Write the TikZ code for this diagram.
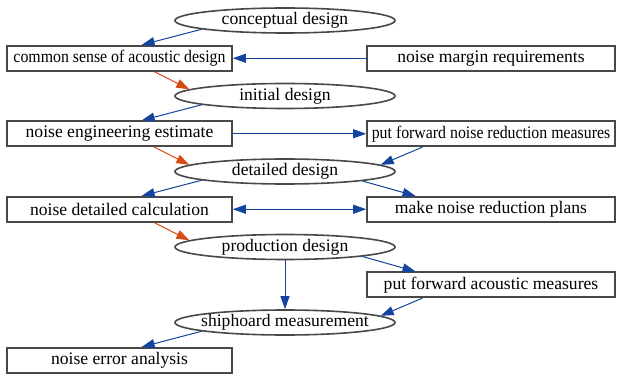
\documentclass[tikz,border=0pt]{standalone}
\usepackage{fontspec}
\setmainfont{Liberation Serif}
\usepackage{graphicx}
\usetikzlibrary{arrows.meta, positioning, shapes.geometric}

\definecolor{flowblue}{RGB}{20,68,158}
\definecolor{floworange}{RGB}{214,74,20}
\definecolor{rim}{RGB}{72,72,72}

% ellipse size comes from minimum width/height only
\newcommand{\stagetext}[1]{\makebox[0pt]{#1}}
\newcommand{\squeeze}[1]{\scalebox{0.9}[1]{#1}}

\begin{document}
\begin{tikzpicture}[
  x=1pt, y=-1pt, on grid,
  font=\fontsize{17.6}{20}\selectfont,
  stage/.style={ellipse, draw=rim, line width=1.6pt, minimum width=220pt, minimum height=25pt, inner sep=0pt},
  task/.style={rectangle, draw=rim, line width=1.6pt, minimum height=25pt, inner sep=0pt},
  lefttask/.style={task, minimum width=225pt},
  righttask/.style={task, minimum width=248pt},
  edge/.style={-{Triangle[length=13pt, width=9pt]}, flowblue, line width=1pt},
  twoway/.style={edge, {Triangle[length=13pt, width=9pt]}-{Triangle[length=13pt, width=9pt]}},
  advance/.style={edge, floworange}
]
\useasboundingbox (0,0) rectangle (618,374);

\node[stage] (cd) at (285,20.5) {\stagetext{conceptual design}};
\node[lefttask, below left=37.75pt and 165.5pt of cd] (cs) {\squeeze{common sense of acoustic design}};
\node[righttask, right=371.5pt of cs] (nm) {noise margin requirements};
\node[stage, below=75.5pt of cd] (id) {\stagetext{initial design}};
\node[lefttask, below=75.5pt of cs] (ne) {noise engineering estimate};
\node[righttask, right=371.5pt of ne] (pf) {\squeeze{put forward noise reduction measures}};
\node[stage, below=75.5pt of id] (dd) {\stagetext{detailed design}};
\node[lefttask, below=75.5pt of ne] (nd) {noise detailed calculation};
\node[righttask, right=371.5pt of nd] (mp) {make noise reduction plans};
\node[stage, below=75.5pt of dd] (pd) {\stagetext{production design}};
\node[righttask, below=75.5pt of mp] (pa) {put forward acoustic measures};
\node[stage, below=75.5pt of pd] (sm) {\stagetext{shiphoard measurement}};
\node[lefttask, below=151pt of nd] (ea) {noise error analysis};

\draw[edge] (cd.186) -- (cs.31);
\draw[edge] (nm) -- (cs);
\draw[advance] (cs.-21) -- (id.176);
\draw[edge] (id.186) -- (ne.31);
\draw[edge] (ne) -- (pf);
\draw[advance] (ne.-21) -- (dd.176);
\draw[edge] (pf.191) -- (dd.4);
\draw[edge] (dd.186) -- (nd.31);
\draw[edge] (dd.-7) -- (mp.170);
\draw[twoway] (nd) -- (mp);
\draw[advance] (nd.-21) -- (pd.176);
\draw[edge] (pd) -- (sm);
\draw[edge] (pd.-7) -- (pa.170);
\draw[edge] (pa.191) -- (sm.4);
\draw[edge] (sm.186) -- (ea.31);
\end{tikzpicture}
\end{document}
